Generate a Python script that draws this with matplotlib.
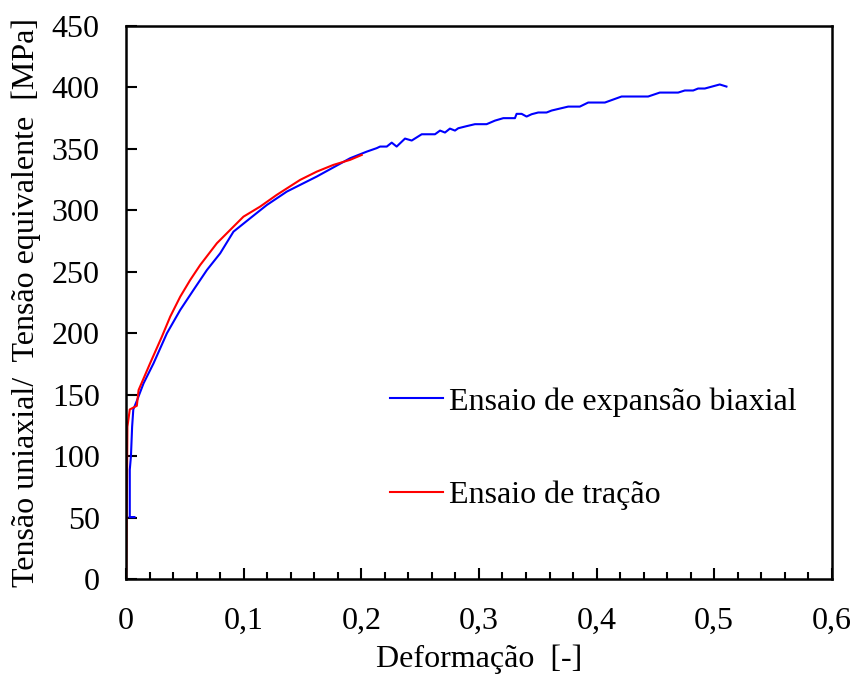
import matplotlib
matplotlib.use("Agg")
import matplotlib.pyplot as plt
from matplotlib.ticker import MultipleLocator

plt.rcParams["font.family"] = ["Liberation Serif", "DejaVu Serif"]

# ensaio de expansão biaxial (deformação equivalente, tensão equivalente)
bia_def = [0.0030, 0.0070, 0.0030, 0.0030, 0.0040, 0.0050, 0.0060, 0.0090,
           0.0147, 0.0232, 0.0346, 0.0459, 0.0572, 0.0686, 0.0799, 0.0912,
           0.1054, 0.1196, 0.1366, 0.1620, 0.1904, 0.2046, 0.2130, 0.2159,
           0.2216, 0.2258, 0.2300, 0.2371, 0.2428, 0.2513, 0.2626, 0.2669,
           0.2711, 0.2753, 0.2796, 0.2824, 0.2895, 0.2966, 0.3065, 0.3136,
           0.3207, 0.3306, 0.3320, 0.3363, 0.3405, 0.3448, 0.3504, 0.3575,
           0.3618, 0.3688, 0.3759, 0.3858, 0.3929, 0.4071, 0.4213, 0.4439,
           0.4538, 0.4694, 0.4751, 0.4822, 0.4864, 0.4921, 0.5048, 0.5105]
bia_ten = [50.5, 50.5, 50.5, 89.0, 100.0, 124.0, 138.0, 145.0,
           159.2, 175.5, 200.0, 218.9, 235.2, 251.4, 265.0, 282.6,
           293.5, 304.3, 315.2, 327.4, 342.3, 347.7, 350.5, 351.8,
           351.8, 355.0, 351.8, 358.3, 356.7, 361.8, 361.8, 364.8,
           363.2, 366.4, 364.8, 366.7, 368.4, 370.0, 370.0, 372.9,
           374.9, 374.9, 378.4, 378.4, 376.2, 378.1, 379.5, 379.5,
           381.1, 382.7, 384.3, 384.3, 387.6, 387.6, 392.5, 392.5,
           395.7, 395.7, 397.4, 397.4, 399.0, 399.0, 402.3, 400.6]

# ensaio de tração uniaxial
tra_def = [0.0000, 0.0010, 0.0030, 0.0090, 0.0105, 0.0204, 0.0303, 0.0374,
           0.0459, 0.0544, 0.0629, 0.0771, 0.0912, 0.0997, 0.1139, 0.1280,
           0.1479, 0.1620, 0.1762, 0.1904, 0.2003]
tra_ten = [0.0, 124.0, 138.0, 141.0, 153.8, 175.8, 197.2, 213.5,
           229.7, 243.3, 255.5, 273.2, 286.7, 294.8, 303.0, 312.5,
           324.7, 331.4, 336.9, 341.0, 345.0]

x_ticks = [0, 0.1, 0.2, 0.3, 0.4, 0.5, 0.6]
x_tick_labels = ["0", "0,1", "0,2", "0,3", "0,4", "0,5", "0,6"]
y_ticks = [0, 50, 100, 150, 200, 250, 300, 350, 400, 450]

FS = 23

fig = plt.figure(figsize=(8.53, 6.79), dpi=100)
ax = fig.add_axes([0.148, 0.147, 0.827, 0.815])

ax.plot(bia_def, bia_ten, color="#0000FF", lw=1.5, label="Ensaio de expansão biaxial")
ax.plot(tra_def, tra_ten, color="#FF0000", lw=1.5, label="Ensaio de tração")

ax.set_xlim(0, 0.6)
ax.set_ylim(0, 450)
ax.set_xticks(x_ticks)
ax.set_xticklabels(x_tick_labels)
ax.set_yticks(y_ticks)
ax.xaxis.set_minor_locator(MultipleLocator(0.02))
ax.tick_params(axis="both", which="major", direction="in", labelsize=FS,
               width=1.5, length=8, top=False, right=False)
ax.tick_params(axis="x", which="major", pad=20)
ax.tick_params(axis="y", which="major", pad=19)
ax.tick_params(axis="x", which="minor", direction="in", width=1.5, length=5,
               top=False)
for s in ax.spines.values():
    s.set_linewidth(1.8)

ax.set_xlabel("Deformação  [-]", fontsize=FS, labelpad=6)
ax.set_ylabel("Tensão uniaxial/  Tensão equivalente  [MPa]", fontsize=FS, labelpad=8)

# legenda em duas linhas bem espaçadas, sem moldura
leg = ax.legend(loc="center left", bbox_to_anchor=(0.333, 0.236), frameon=False,
                fontsize=FS, handlelength=1.66, handletextpad=0.2, labelspacing=2.0)

fig.savefig("out.png", dpi=100)
